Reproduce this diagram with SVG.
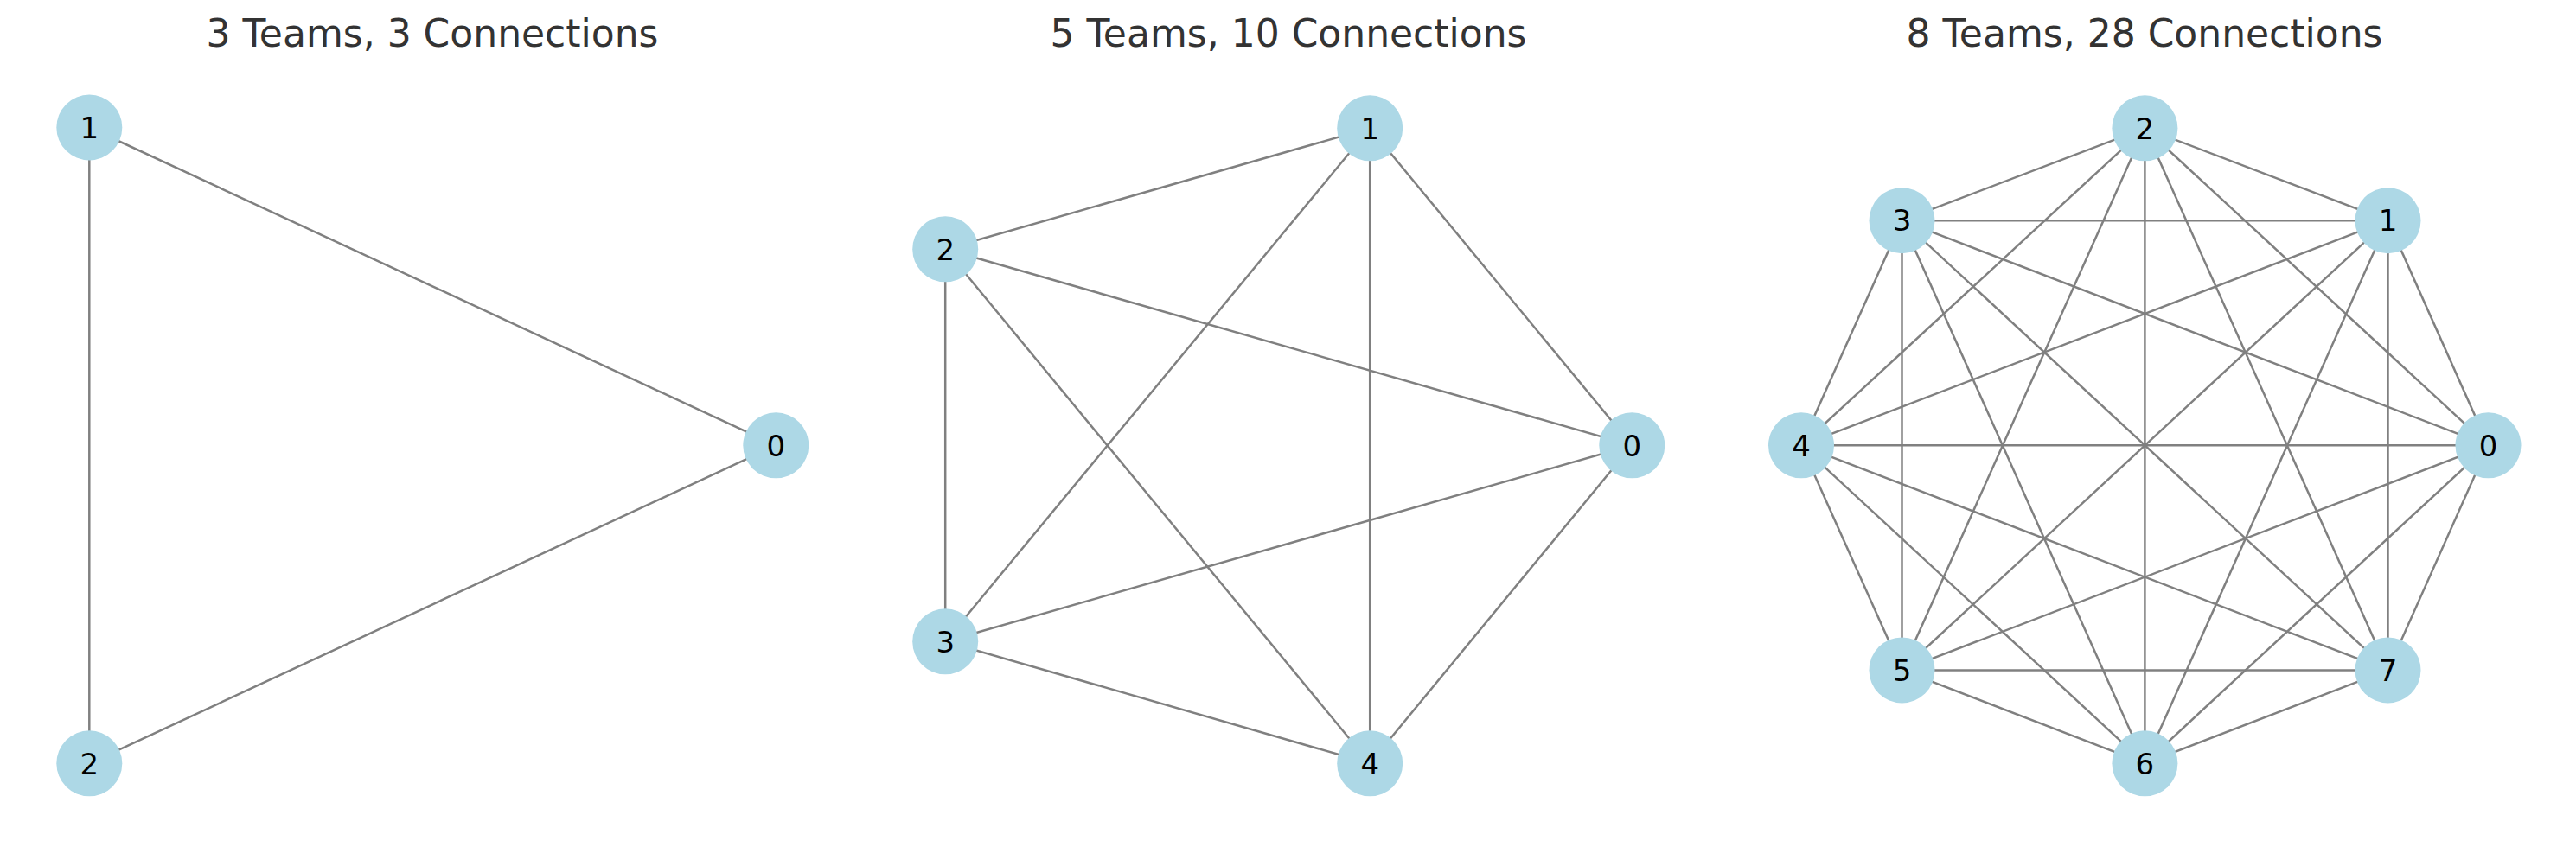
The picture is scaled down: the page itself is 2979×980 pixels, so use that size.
<svg xmlns="http://www.w3.org/2000/svg" width="2979" height="980" viewBox="0 0 2979 980">
<style>
.bg{fill:#ffffff}
.title{font-family:"DejaVu Sans",sans-serif;font-size:44px;fill:#333333;text-anchor:middle}
.e line{stroke:#808080;stroke-width:2.5}
.node circle{fill:#ADD8E6}
.node text{font-family:"DejaVu Sans",sans-serif;font-size:34px;fill:#000000;text-anchor:middle}
</style>
<rect class="bg" x="0" y="0" width="2979" height="980"/>
<text class="title" x="500" y="54">3 Teams, 3 Connections</text>
<text class="title" x="1490" y="54">5 Teams, 10 Connections</text>
<text class="title" x="2480" y="54">8 Teams, 28 Connections</text>
<g id="connectors" class="e">
<line x1="897.3" y1="515.3" x2="103.3" y2="147.5"/>
<line x1="897.3" y1="515.3" x2="103.3" y2="883.3"/>
<line x1="103.3" y1="147.5" x2="103.3" y2="883.3"/>

<line x1="1887.3" y1="515.3" x2="1584.2" y2="148.3"/>
<line x1="1887.3" y1="515.3" x2="1093.2" y2="288.3"/>
<line x1="1887.3" y1="515.3" x2="1093.2" y2="742.3"/>
<line x1="1887.3" y1="515.3" x2="1584.2" y2="883.3"/>
<line x1="1584.2" y1="148.3" x2="1093.2" y2="288.3"/>
<line x1="1584.2" y1="148.3" x2="1093.2" y2="742.3"/>
<line x1="1584.2" y1="148.3" x2="1584.2" y2="883.3"/>
<line x1="1093.2" y1="288.3" x2="1093.2" y2="742.3"/>
<line x1="1093.2" y1="288.3" x2="1584.2" y2="883.3"/>
<line x1="1093.2" y1="742.3" x2="1584.2" y2="883.3"/>

<line x1="2877.5" y1="515.3" x2="2761.5" y2="255.2"/>
<line x1="2877.5" y1="515.3" x2="2480.4" y2="148.3"/>
<line x1="2877.5" y1="515.3" x2="2199.5" y2="255.2"/>
<line x1="2877.5" y1="515.3" x2="2083" y2="515.3"/>
<line x1="2877.5" y1="515.3" x2="2199.5" y2="775.4"/>
<line x1="2877.5" y1="515.3" x2="2480.4" y2="883.3"/>
<line x1="2877.5" y1="515.3" x2="2761.5" y2="775.4"/>
<line x1="2761.5" y1="255.2" x2="2480.4" y2="148.3"/>
<line x1="2761.5" y1="255.2" x2="2199.5" y2="255.2"/>
<line x1="2761.5" y1="255.2" x2="2083" y2="515.3"/>
<line x1="2761.5" y1="255.2" x2="2199.5" y2="775.4"/>
<line x1="2761.5" y1="255.2" x2="2480.4" y2="883.3"/>
<line x1="2761.5" y1="255.2" x2="2761.5" y2="775.4"/>
<line x1="2480.4" y1="148.3" x2="2199.5" y2="255.2"/>
<line x1="2480.4" y1="148.3" x2="2083" y2="515.3"/>
<line x1="2480.4" y1="148.3" x2="2199.5" y2="775.4"/>
<line x1="2480.4" y1="148.3" x2="2480.4" y2="883.3"/>
<line x1="2480.4" y1="148.3" x2="2761.5" y2="775.4"/>
<line x1="2199.5" y1="255.2" x2="2083" y2="515.3"/>
<line x1="2199.5" y1="255.2" x2="2199.5" y2="775.4"/>
<line x1="2199.5" y1="255.2" x2="2480.4" y2="883.3"/>
<line x1="2199.5" y1="255.2" x2="2761.5" y2="775.4"/>
<line x1="2083" y1="515.3" x2="2199.5" y2="775.4"/>
<line x1="2083" y1="515.3" x2="2480.4" y2="883.3"/>
<line x1="2083" y1="515.3" x2="2761.5" y2="775.4"/>
<line x1="2199.5" y1="775.4" x2="2480.4" y2="883.3"/>
<line x1="2199.5" y1="775.4" x2="2761.5" y2="775.4"/>
<line x1="2480.4" y1="883.3" x2="2761.5" y2="775.4"/>
</g>
<g id="p1-n0" class="node"><circle cx="897.3" cy="515.3" r="38"/><text x="897.3" y="527.5">0</text></g>
<g id="p1-n1" class="node"><circle cx="103.3" cy="147.5" r="38"/><text x="103.3" y="159.7">1</text></g>
<g id="p1-n2" class="node"><circle cx="103.3" cy="883.3" r="38"/><text x="103.3" y="895.5">2</text></g>

<g id="p2-n0" class="node"><circle cx="1887.3" cy="515.3" r="38"/><text x="1887.3" y="527.5">0</text></g>
<g id="p2-n1" class="node"><circle cx="1584.2" cy="148.3" r="38"/><text x="1584.2" y="160.5">1</text></g>
<g id="p2-n2" class="node"><circle cx="1093.2" cy="288.3" r="38"/><text x="1093.2" y="300.5">2</text></g>
<g id="p2-n3" class="node"><circle cx="1093.2" cy="742.3" r="38"/><text x="1093.2" y="754.5">3</text></g>
<g id="p2-n4" class="node"><circle cx="1584.2" cy="883.3" r="38"/><text x="1584.2" y="895.5">4</text></g>

<g id="p3-n0" class="node"><circle cx="2877.5" cy="515.3" r="38"/><text x="2877.5" y="527.5">0</text></g>
<g id="p3-n1" class="node"><circle cx="2761.5" cy="255.2" r="38"/><text x="2761.5" y="267.4">1</text></g>
<g id="p3-n2" class="node"><circle cx="2480.4" cy="148.3" r="38"/><text x="2480.4" y="160.5">2</text></g>
<g id="p3-n3" class="node"><circle cx="2199.5" cy="255.2" r="38"/><text x="2199.5" y="267.4">3</text></g>
<g id="p3-n4" class="node"><circle cx="2083" cy="515.3" r="38"/><text x="2083" y="527.5">4</text></g>
<g id="p3-n5" class="node"><circle cx="2199.5" cy="775.4" r="38"/><text x="2199.5" y="787.6">5</text></g>
<g id="p3-n6" class="node"><circle cx="2480.4" cy="883.3" r="38"/><text x="2480.4" y="895.5">6</text></g>
<g id="p3-n7" class="node"><circle cx="2761.5" cy="775.4" r="38"/><text x="2761.5" y="787.6">7</text></g>
</svg>
